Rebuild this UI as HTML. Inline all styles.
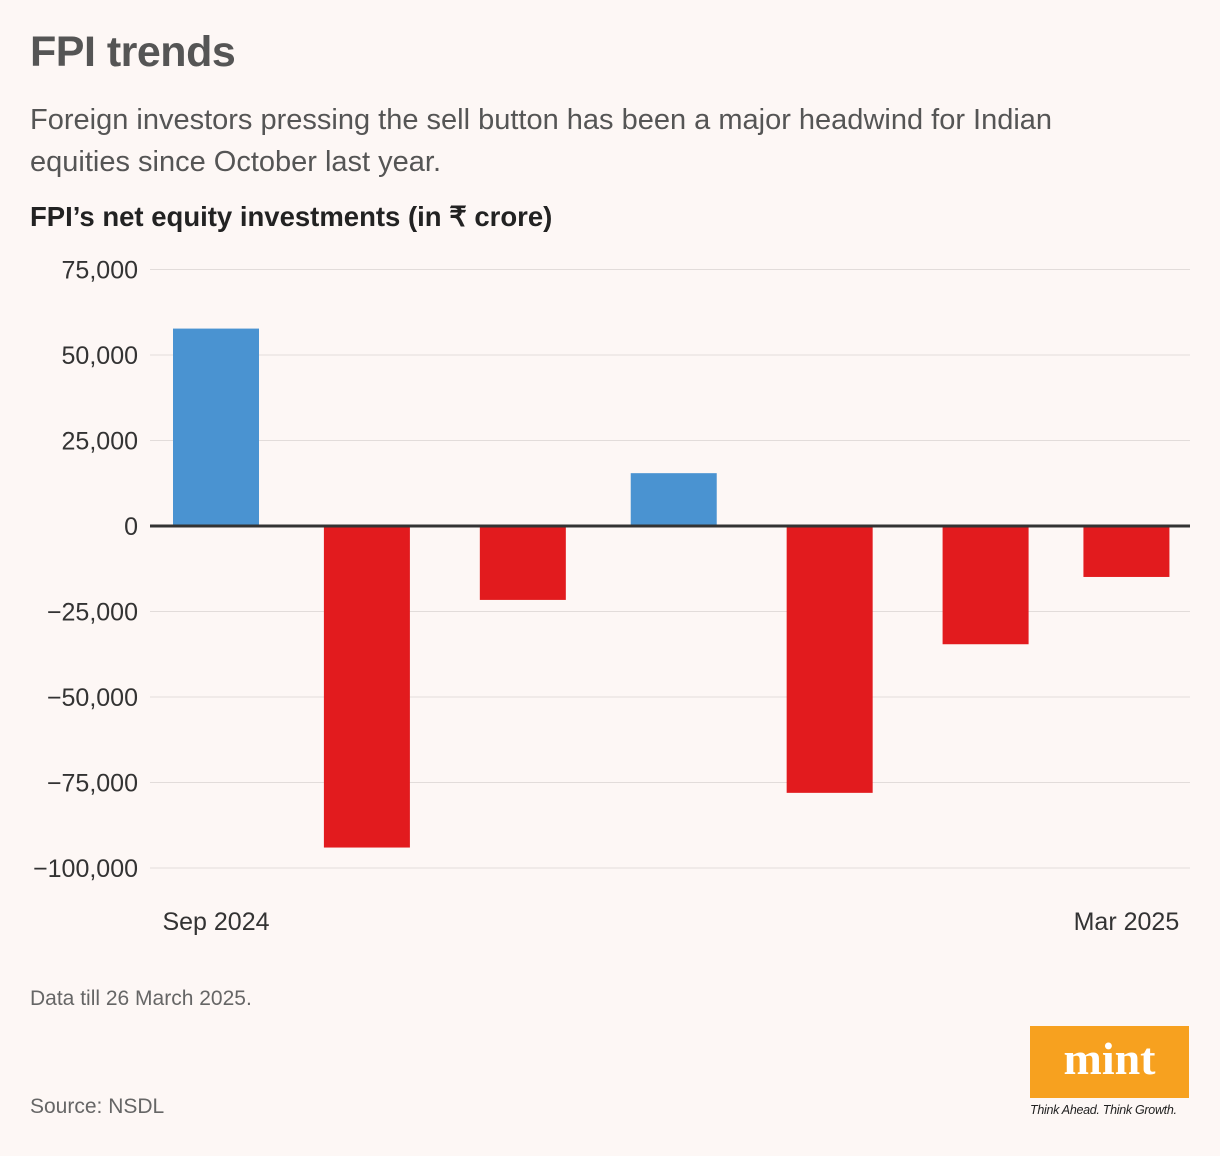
<!DOCTYPE html>
<html><head><meta charset="utf-8">
<style>
html,body{margin:0;padding:0;background:#fdf7f5;}
body{width:1220px;height:1156px;position:relative;overflow:hidden;font-family:"Liberation Sans",sans-serif;color:#333;}
.abs{position:absolute;}
</style></head>
<body>
<div class="abs" style="left:30px;top:28px;font-size:43px;font-weight:bold;color:#555;letter-spacing:-0.5px;">FPI trends</div>
<div class="abs" style="left:30px;top:99px;font-size:29px;line-height:42px;color:#555;white-space:nowrap;">Foreign investors pressing the sell button has been a major headwind for Indian<br>equities since October last year.</div>
<div class="abs" style="left:30px;top:201px;font-size:27.5px;font-weight:bold;color:#222;">FPI’s net equity investments (in ₹ crore)</div>
<svg class="abs" id="chart" style="left:0;top:0" width="1220" height="960"></svg>
<div class="abs" style="left:30px;top:987px;font-size:21px;color:#666;">Data till 26 March 2025.</div>
<div class="abs" style="left:30px;top:1095px;font-size:21px;color:#666;">Source: NSDL</div>
<div class="abs" style="left:1030px;top:1026px;width:159px;height:72px;background:#f7a11f;color:#fff;font-family:'Liberation Serif',serif;font-weight:bold;font-size:46px;text-align:center;line-height:66px;">mint</div>
<div class="abs" style="left:1030px;top:1103px;font-size:12.5px;font-style:italic;color:#222;letter-spacing:-0.3px;">Think Ahead. Think Growth.</div>
<script>
const categories=["Sep 2024","Oct 2024","Nov 2024","Dec 2024","Jan 2025","Feb 2025","Mar 2025"];
const monthStarts=["2024-09-01","2024-10-01","2024-11-01","2024-12-01","2025-01-01","2025-02-01","2025-03-01"];
const values=[57724,-94017,-21612,15446,-78027,-34574,-14900];
const yTicks=[75000,50000,25000,0,-25000,-50000,-75000,-100000];
const xLabels=["Sep 2024","","","","","","Mar 2025"];
const svg=document.getElementById('chart');
const NS='http://www.w3.org/2000/svg';
function y(v){return 526-v*(85.5/25000);}
const t0=Date.parse("2024-09-01");
function xd(s){return 173+(Date.parse(s)-t0)/86400000*5.03;}
function mk(t,a){const e=document.createElementNS(NS,t);for(const k in a)e.setAttribute(k,a[k]);svg.appendChild(e);return e;}
yTicks.forEach(v=>{
  const g=mk('line',{x1:150,x2:1190,y1:y(v),y2:y(v),stroke:v===0?'#333':'#e2dcda','stroke-width':v===0?3:1});
  
  
  const t=mk('text',{x:138,y:y(v)+9,'text-anchor':'end','font-size':25,fill:'#333','font-family':'Liberation Sans, sans-serif'});
  t.textContent=(v<0?'−':'')+Math.abs(v).toLocaleString('en-US');
  
  
});
values.forEach((v,i)=>{
  const r=mk('rect',{x:xd(monthStarts[i]),width:86,y:Math.min(y(v),y(0)),height:Math.abs(y(v)-y(0)),fill:v>=0?'#4a93d1':'#e21b1e'});
  
  
});
mk('line',{x1:150,x2:1190,y1:y(0),y2:y(0),stroke:'#333','stroke-width':3});
xLabels.forEach((l,i)=>{
  if(!l)return;
  const t=mk('text',{x:xd(monthStarts[i])+43,y:930,'text-anchor':'middle','font-size':25,fill:'#333','font-family':'Liberation Sans, sans-serif'});
  t.textContent=l;
  
  
});
</script>
</body></html>
